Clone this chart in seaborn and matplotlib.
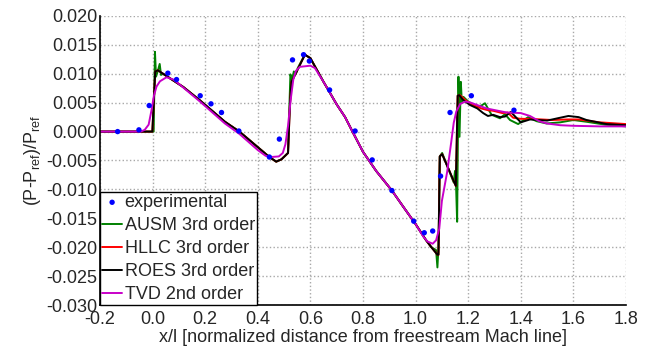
import numpy as np
import pandas as pd
import matplotlib
matplotlib.use('Agg')
import matplotlib.pyplot as plt
import seaborn as sns


# experimental data points
expX = [-0.133, -0.052, -0.013, 0.058, 0.091, 0.181, 0.222, 0.262, 0.328, 0.444,
        0.482, 0.532, 0.574, 0.596, 0.673, 0.770, 0.835, 0.910, 0.993, 1.033,
        1.065, 1.095, 1.131, 1.212, 1.374]
expY = [0.0000, 0.0003, 0.0045, 0.0101, 0.0090, 0.0062, 0.0048, 0.0033, 0.0001, -0.0044,
        -0.0013, 0.0124, 0.0133, 0.0122, 0.0072, 0.0001, -0.0049, -0.0102, -0.0155, -0.0175,
        -0.0172, -0.0077, 0.0033, 0.0062, 0.0037]

# AUSM 3rd order
ausmX = [-0.2, -0.001, 0.004, 0.009, 0.013, 0.020, 0.027, 0.032, 0.040, 0.060, 0.117,
         0.18, 0.275, 0.33, 0.40, 0.444, 0.47, 0.49, 0.515, 0.520, 0.524, 0.530, 0.537,
         0.545, 0.552, 0.579, 0.60, 0.617, 0.65, 0.668, 0.70, 0.732, 0.76, 0.80, 0.85,
         0.91, 0.95, 1.00, 1.04, 1.06, 1.078, 1.083, 1.087, 1.092, 1.101, 1.145, 1.150,
         1.154, 1.158, 1.163, 1.167, 1.172, 1.176, 1.182, 1.20, 1.232, 1.250, 1.264,
         1.275, 1.289, 1.321, 1.340, 1.359, 1.39, 1.428, 1.46, 1.498, 1.55, 1.60, 1.65,
         1.72, 1.8]
ausmY = [0.0, 0.0, 0.0, 0.0138, 0.0095, 0.0105, 0.0117, 0.0098, 0.0100, 0.0094, 0.0077,
         0.0054, 0.0017, 0.0000, -0.0027, -0.0044, -0.0052, -0.0048, -0.0037, 0.0040,
         0.0099, 0.0088, 0.0104, 0.0100, 0.0110, 0.0133, 0.0127, 0.0113, 0.0086, 0.0072,
         0.0047, 0.0025, 0.0000, -0.0035, -0.0068, -0.0102, -0.0128, -0.0160, -0.0188,
         -0.0200, -0.0205, -0.0235, -0.0200, -0.0043, -0.0037, -0.0088, -0.0068, -0.0095,
         -0.0156, 0.0095, -0.0009, 0.0086, 0.0050, 0.0060, 0.0052, 0.0043, 0.0045, 0.0049,
         0.0040, 0.0029, 0.0023, 0.0030, 0.0020, 0.0013, 0.0025, 0.0018, 0.0014, 0.0016,
         0.0020, 0.0017, 0.0012, 0.0009]

# HLLC 3rd order
hllcX = [-0.2, -0.001, 0.010, 0.02, 0.06, 0.117, 0.18, 0.275, 0.33, 0.40, 0.444, 0.47,
         0.49, 0.515, 0.522, 0.528, 0.548, 0.579, 0.60, 0.617, 0.65, 0.668, 0.70, 0.732,
         0.76, 0.80, 0.85, 0.91, 0.95, 1.00, 1.04, 1.06, 1.083, 1.087, 1.092, 1.101,
         1.153, 1.160, 1.169, 1.19, 1.219, 1.25, 1.275, 1.295, 1.33, 1.35, 1.371, 1.40,
         1.435, 1.52, 1.58, 1.62, 1.70, 1.8]
hllcY = [0.0, 0.0, 0.0104, 0.0106, 0.0094, 0.0077, 0.0054, 0.0017, 0.0000, -0.0027,
         -0.0044, -0.0052, -0.0048, -0.0037, 0.0045, 0.0086, 0.0104, 0.0133, 0.0127,
         0.0113, 0.0086, 0.0072, 0.0047, 0.0025, 0.0000, -0.0035, -0.0068, -0.0102,
         -0.0128, -0.0160, -0.0188, -0.0200, -0.0213, -0.0213, -0.0043, -0.0039, -0.0094,
         0.0062, 0.0063, 0.0054, 0.0046, 0.0040, 0.0037, 0.0036, 0.0032, 0.0033, 0.0024,
         0.0022, 0.0022, 0.0020, 0.0021, 0.0021, 0.0016, 0.0013]

# ROES 3rd order
roesX = [-0.2, -0.001, 0.010, 0.02, 0.06, 0.117, 0.18, 0.275, 0.33, 0.40, 0.444, 0.47,
         0.49, 0.515, 0.522, 0.528, 0.548, 0.579, 0.60, 0.617, 0.65, 0.668, 0.70, 0.732,
         0.76, 0.80, 0.85, 0.91, 0.95, 1.00, 1.04, 1.06, 1.083, 1.087, 1.092, 1.101,
         1.153, 1.160, 1.166, 1.18, 1.207, 1.235, 1.257, 1.275, 1.295, 1.321, 1.34, 1.362,
         1.40, 1.435, 1.50, 1.54, 1.581, 1.62, 1.65, 1.726, 1.8]
roesY = [0.0, 0.0, 0.0104, 0.0106, 0.0094, 0.0077, 0.0054, 0.0017, 0.0000, -0.0027,
         -0.0044, -0.0052, -0.0048, -0.0037, 0.0045, 0.0086, 0.0104, 0.0133, 0.0127,
         0.0113, 0.0086, 0.0072, 0.0047, 0.0025, 0.0000, -0.0035, -0.0068, -0.0102,
         -0.0128, -0.0160, -0.0188, -0.0200, -0.0213, -0.0213, -0.0043, -0.0039, -0.0094,
         0.0062, 0.0063, 0.0055, 0.0046, 0.0040, 0.0032, 0.0027, 0.0029, 0.0025, 0.0026,
         0.0034, 0.0016, 0.0021, 0.0019, 0.0023, 0.0027, 0.0025, 0.0020, 0.0013, 0.0011]

# TVD 2nd order
tvdX = [-0.2, -0.045, -0.03, -0.015, -0.005, 0.005, 0.015, 0.028, 0.053, 0.079, 0.104,
        0.18, 0.275, 0.33, 0.40, 0.43, 0.45, 0.48, 0.495, 0.505, 0.515, 0.525, 0.535,
        0.545, 0.56, 0.60, 0.617, 0.65, 0.668, 0.70, 0.732, 0.76, 0.80, 0.85, 0.91, 0.95,
        1.00, 1.03, 1.045, 1.065, 1.078, 1.09, 1.10, 1.12, 1.135, 1.145, 1.155, 1.17,
        1.19, 1.21, 1.27, 1.346, 1.40, 1.435, 1.47, 1.50, 1.55, 1.60, 1.70, 1.80]
tvdY = [0.0, 0.0, 0.0003, 0.0012, 0.0035, 0.0062, 0.0078, 0.0087, 0.0094, 0.0090, 0.0081,
        0.0052, 0.0014, -0.0004, -0.0032, -0.0042, -0.0044, -0.0043, -0.0037, -0.0022,
        0.0010, 0.0055, 0.0090, 0.0105, 0.0112, 0.0114, 0.0110, 0.0086, 0.0072, 0.0047,
        0.0025, 0.0000, -0.0035, -0.0068, -0.0102, -0.0128, -0.0160, -0.0182, -0.0190,
        -0.0194, -0.0188, -0.0168, -0.0120, -0.0070, -0.0020, 0.0015, 0.0035, 0.0048,
        0.0052, 0.0050, 0.0040, 0.0033, 0.0032, 0.0027, 0.0018, 0.0014, 0.0011, 0.0010,
        0.0009, 0.0009]

xTicks = [-0.2, 0.0, 0.2, 0.4, 0.6, 0.8, 1.0, 1.2, 1.4, 1.6, 1.8]
yTicks = [-0.030, -0.025, -0.020, -0.015, -0.010, -0.005, 0.000, 0.005, 0.010, 0.015, 0.020]

series = [
    ('AUSM 3rd order', ausmX, ausmY, '#008000'),
    ('HLLC 3rd order', hllcX, hllcY, '#ff0000'),
    ('ROES 3rd order', roesX, roesY, '#000000'),
    ('TVD 2nd order',  tvdX,  tvdY,  '#c800c8'),
]

sns.set_style('white')
plt.rcParams['font.family'] = ['Liberation Sans', 'DejaVu Sans']
plt.rcParams['mathtext.fontset'] = 'custom'
plt.rcParams['mathtext.rm'] = 'Liberation Sans'
plt.rcParams['mathtext.it'] = 'Liberation Sans'
plt.rcParams['axes.unicode_minus'] = False

fig = plt.figure(figsize=(6.46, 3.47), dpi=100)
ax = fig.add_axes([0.1548, 0.121, 0.8142, 0.833])

expDf = pd.DataFrame({'x': expX, 'y': expY})
sns.scatterplot(data=expDf, x='x', y='y', ax=ax, color='#0000ff', s=15,
                edgecolor='none', label='experimental', zorder=5)

for name, xs, ys, col in series:
    df = pd.DataFrame({'x': xs, 'y': ys})
    sns.lineplot(data=df, x='x', y='y', ax=ax, color=col, linewidth=1.4,
                 sort=False, estimator=None, label=name)

ax.set_xlim(-0.2, 1.8)
ax.set_ylim(-0.030, 0.020)
ax.set_xticks(xTicks)
ax.set_yticks(yTicks)
ax.set_xticklabels([f'{v:.1f}' for v in xTicks])
ax.set_yticklabels([f'{v:.3f}' for v in yTicks])
ax.tick_params(direction='in', length=4, width=1, labelsize=13, color='black')
ax.tick_params(axis='y', pad=2)
ax.tick_params(axis='x', pad=4)

ax.grid(True, linestyle=':', color='#a8a8a8', linewidth=1.0)
ax.set_axisbelow(True)
for s in ['top', 'right']:
    ax.spines[s].set_visible(False)
for s in ['left', 'bottom']:
    ax.spines[s].set_color('black')
    ax.spines[s].set_linewidth(1.2)

ax.set_xlabel('x/l [normalized distance from freestream Mach line]', fontsize=13, labelpad=1)
ax.set_ylabel(r'(P-P$_{\rm ref}$)/P$_{\rm ref}$', fontsize=13, labelpad=2)

leg = ax.legend(loc='lower left', borderaxespad=0, fontsize=13, frameon=True,
                fancybox=False, edgecolor='black', framealpha=1,
                handlelength=1.1, handletextpad=0.15, labelspacing=0.33, borderpad=0.12)
leg.get_frame().set_linewidth(1.0)

fig.savefig('out.png', dpi=100)
